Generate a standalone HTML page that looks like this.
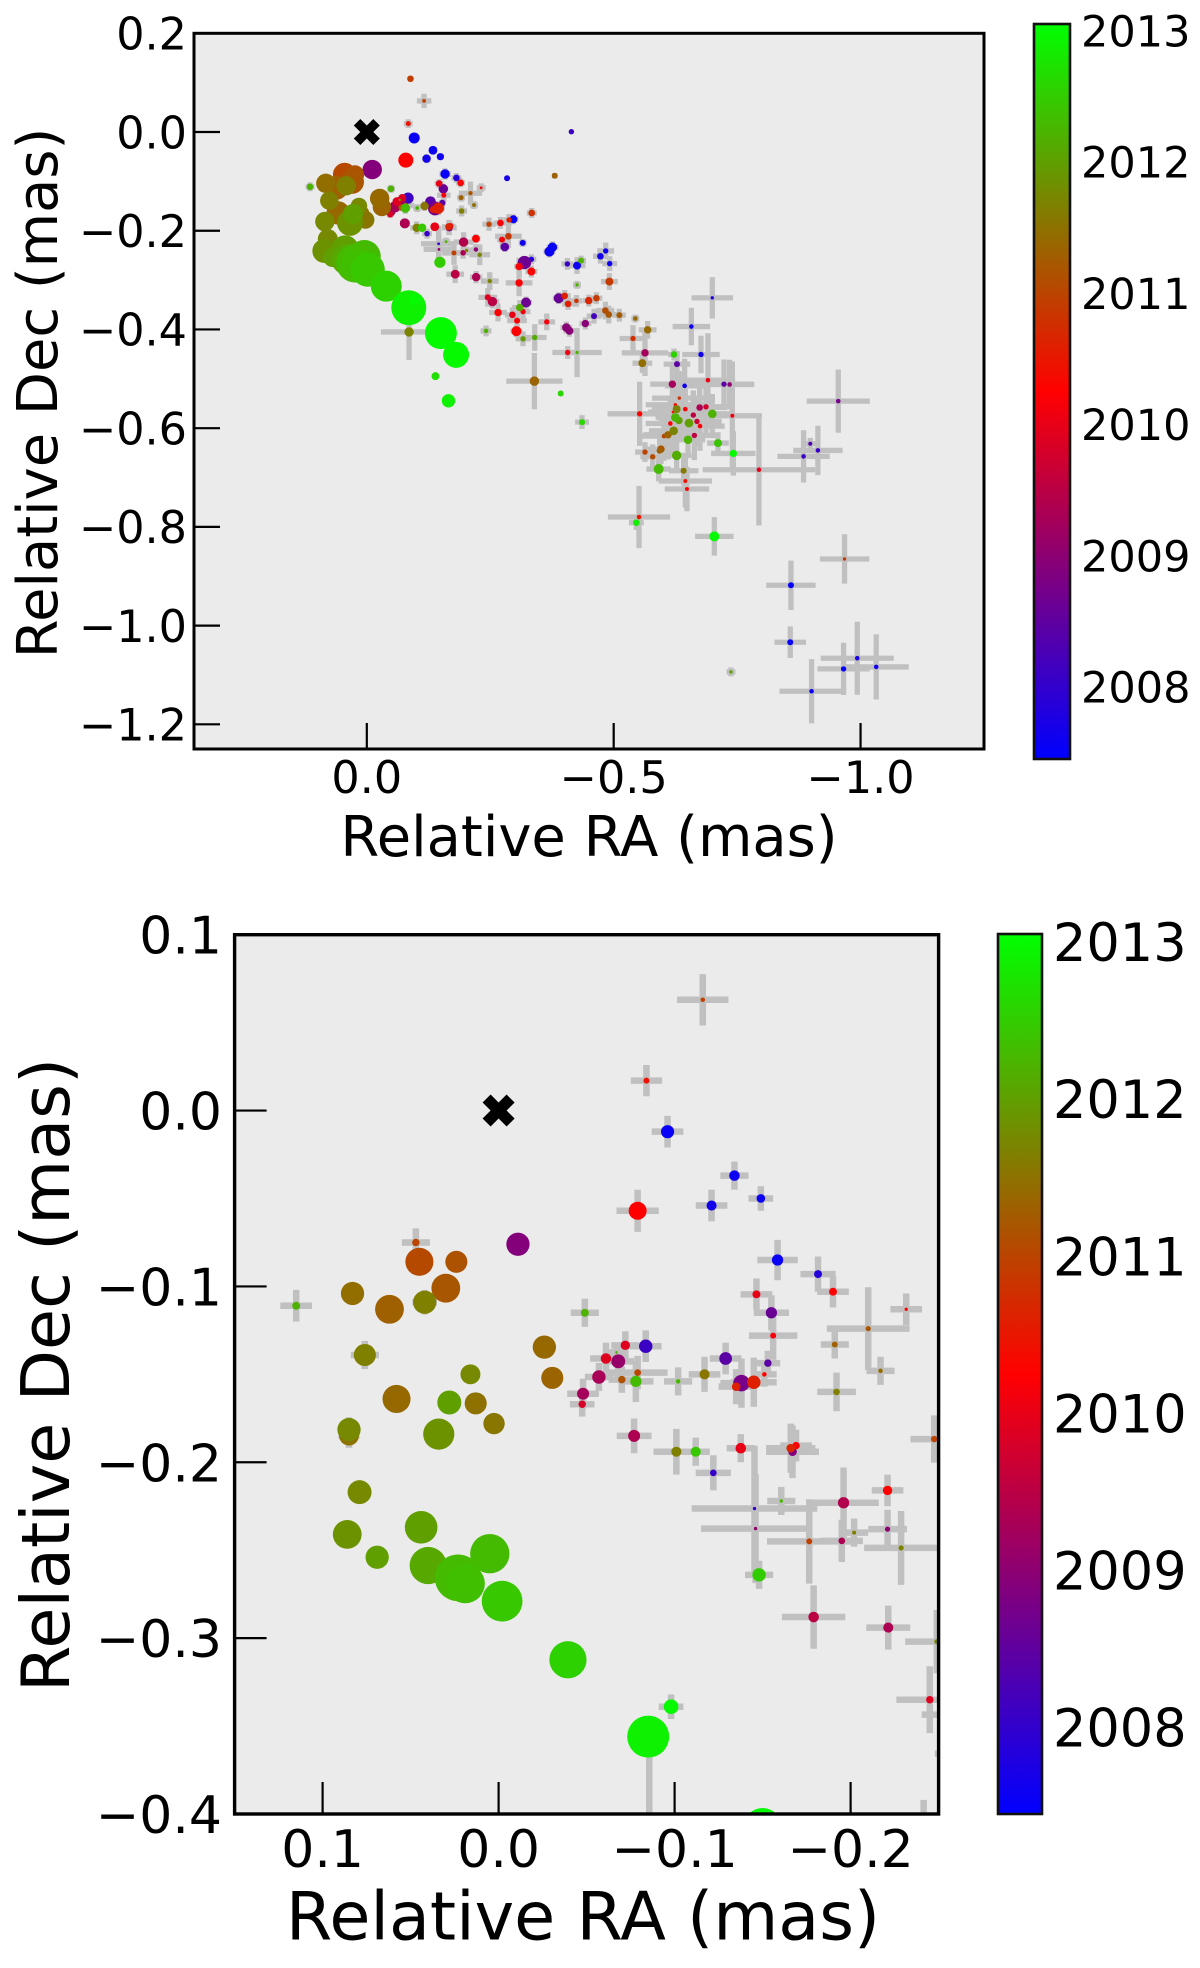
<!DOCTYPE html>
<html lang="en">
<head>
<meta charset="utf-8">
<title>Relative RA and Dec by epoch</title>
<style>
html,body{margin:0;padding:0;background:#fff;width:1200px;height:1968px;overflow:hidden;}
svg{display:block;font-family:"DejaVu Sans","Liberation Sans",sans-serif;}
</style>
</head>
<body>
<svg id="figure" xmlns="http://www.w3.org/2000/svg" width="1200" height="1968" viewBox="0 0 1200 1968">
  <defs>
    <linearGradient id="epochGradient" x1="0" y1="1" x2="0" y2="0">
      <stop offset="0" stop-color="#0000ff"/>
      <stop offset="0.5" stop-color="#ff0000"/>
      <stop offset="1" stop-color="#00ff00"/>
    </linearGradient>
    <clipPath id="clip-top"><rect x="194" y="33.3" width="790" height="715.7"/></clipPath>
    <clipPath id="clip-bottom"><rect x="234.6" y="934.7" width="704" height="879.3"/></clipPath>
  </defs>
  <rect x="0" y="0" width="1200" height="1968" fill="#ffffff"/>
  <g id="panel-top"></g>
  <g id="panel-bottom"></g>
  <text x="589" y="856" font-size="55.9" text-anchor="middle">Relative RA (mas)</text>
  <text transform="translate(57,393) rotate(-90)" font-size="55.9" text-anchor="middle">Relative Dec (mas)</text>
  <text x="583" y="1939.5" font-size="66.8" text-anchor="middle">Relative RA (mas)</text>
  <text transform="translate(69,1375) rotate(-90)" font-size="66.8" text-anchor="middle">Relative Dec (mas)</text>
</svg>
<script>
const raValues = [
-0.116,-0.084,-0.096,-0.134,-0.149,-0.121,-0.079,-0.011,0.047,0.045,
0.024,0.030,0.083,0.062,0.042,0.115,-0.049,-0.1585,-0.1815,-0.190,
-0.1465,-0.155,-0.2316,-0.210,-0.156,-0.191,-0.217,-0.192,-0.072,-0.0836,
-0.061,-0.067,-0.068,-0.057,-0.070,-0.079,-0.078,-0.048,-0.0475,-0.026,
-0.0305,0.076,0.016,0.028,0.058,0.013,0.0026,0.085,0.085,0.034,
-0.102,-0.117,-0.129,-0.153,-0.151,-0.138,-0.145,-0.135,-0.077,-0.101,
-0.112,-0.1376,-0.122,-0.167,-0.166,-0.169,-0.221,-0.196,-0.1606,-0.1454,
-0.146,-0.221,-0.202,-0.1765,-0.195,-0.2287,-0.148,-0.179,-0.2214,-0.249,
-0.245,-0.150,-0.085,-0.0856,-0.098,-0.0394,-0.002,0.005,0.019,0.023,
0.040,0.044,0.069,0.086,0.079,-0.2475,-0.2706,-0.2881,-0.2969,-0.334,
-0.2868,-0.2739,-0.2794,-0.3158,-0.3759,-0.3698,-0.3192,-0.3333,-0.3084,-0.3333,
-0.3084,-0.4062,-0.4258,-0.4339,-0.4731,-0.4838,-0.4919,-0.4913,-0.4258,-0.2544,
-0.2658,-0.2949,-0.3097,-0.3164,-0.3225,-0.3043,-0.303,-0.3164,-0.3401,-0.3644,
-0.4042,-0.4103,-0.4426,-0.4258,-0.4069,-0.3887,-0.4008,-0.4076,-0.4245,-0.4494,
-0.465,-0.4832,-0.4899,-0.4602,-0.5115,-0.5438,-0.5391,-0.3394,-0.3927,-0.4359,
-0.1808,-0.139,-0.1654,-0.2415,-0.0884,-0.4143,-0.3806,-0.284,-0.5688,-0.5634,
-0.6221,-0.558,-0.6282,-0.6768,-0.6573,-0.6997,-0.6909,-0.6188,-0.6437,-0.7234,
-0.7348,-0.6329,-0.6248,-0.6275,-0.645,-0.6201,-0.6741,-0.6869,-0.6613,-0.6997,
-0.7403,-0.5526,-0.6248,-0.6322,-0.6525,-0.6147,-0.6687,-0.6748,-0.6215,-0.61,
-0.6019,-0.6634,-0.6505,-0.7112,-0.7423,-0.7942,-0.5958,-0.5931,-0.5634,-0.579,
-0.6275,-0.5911,-0.6417,-0.6451,-0.6484,-0.5513,-0.5459,-0.7038,-0.9548,-0.8981,
-0.9136,-0.8846,-0.9676,-0.859,-0.8576,-0.7375,-0.9008,-0.9656,-0.9933,-1.0317
];
const decValues = [
0.063,0.017,-0.012,-0.037,-0.050,-0.054,-0.057,-0.076,-0.075,-0.086,
-0.086,-0.101,-0.104,-0.113,-0.109,-0.111,-0.115,-0.085,-0.093,-0.103,
-0.1045,-0.115,-0.113,-0.124,-0.128,-0.133,-0.148,-0.160,-0.1335,-0.134,
-0.141,-0.1375,-0.1426,-0.1515,-0.153,-0.149,-0.154,-0.161,-0.167,-0.1345,
-0.152,-0.139,-0.150,-0.166,-0.164,-0.1665,-0.178,-0.1814,-0.1848,-0.184,
-0.154,-0.150,-0.141,-0.1436,-0.150,-0.155,-0.1545,-0.157,-0.185,-0.194,
-0.194,-0.192,-0.206,-0.194,-0.192,-0.1905,-0.216,-0.223,-0.222,-0.2263,
-0.2377,-0.238,-0.240,-0.245,-0.2447,-0.2487,-0.264,-0.288,-0.294,-0.302,
-0.335,-0.4075,-0.356,-0.405,-0.339,-0.3123,-0.279,-0.252,-0.269,-0.2657,
-0.2587,-0.237,-0.254,-0.241,-0.217,-0.1868,-0.1842,-0.1781,-0.1768,-0.164,
-0.2112,-0.218,-0.2328,-0.2247,-0.2334,-0.2422,-0.2645,-0.2578,-0.2726,-0.2827,
-0.3057,-0.2672,-0.2706,-0.2605,-0.2517,-0.2409,-0.2666,-0.303,-0.3097,-0.3435,
-0.3657,-0.3704,-0.3556,-0.3637,-0.3455,-0.382,-0.4035,-0.419,-0.4163,-0.3846,
-0.3961,-0.4028,-0.388,-0.4467,-0.4467,-0.3367,-0.332,-0.3482,-0.3421,-0.3415,
-0.3367,-0.3617,-0.3698,-0.3731,-0.3711,-0.3779,-0.4183,-0.5047,-0.5297,-0.5877,
-0.4514,-0.4946,-0.5445,-0.403,0.1079,0.0006,-0.0885,-0.0937,-0.4008,-0.4474,
-0.4507,-0.4683,-0.4703,-0.4507,-0.3941,-0.336,-0.5027,-0.5108,-0.5142,-0.5108,
-0.5115,-0.5391,-0.5526,-0.5614,-0.5614,-0.5674,-0.5581,-0.5567,-0.5735,-0.5709,
-0.5749,-0.5709,-0.5783,-0.5844,-0.5897,-0.5905,-0.5864,-0.5958,-0.6053,-0.6134,
-0.616,-0.6147,-0.6235,-0.6302,-0.6512,-0.6842,-0.6424,-0.6457,-0.6484,-0.6579,
-0.6552,-0.6828,-0.6862,-0.7071,-0.7233,-0.78,-0.7915,-0.8192,-0.5452,-0.6316,
-0.6451,-0.6572,-0.865,-0.9183,-1.0337,-1.0938,-1.133,-1.0877,-1.0661,-1.0837
];
const raErrors = [
0.0146,0.0089,0.009,0.008,0.007,0.009,0.012,0.002,0.008,0.002,
0.003,0.002,0.005,0.002,0.007,0.009,0.008,0.0115,0.01,0.009,
0.009,0.01,0.009,0.0235,0.0137,0.008,0.008,0.011,0.008,0.009,
0.009,0.005,0.009,0.008,0.0075,0.017,0.01,0.009,0.007,0.002,
0.002,0.008,0.004,0.002,0.002,0.002,0.002,0.006,0.006,0.002,
0.008,0.009,0.009,0.007,0.007,0.012,0.013,0.01,0.0099,0.013,
0.008,0.008,0.01,0.015,0.014,0.009,0.009,0.02,0.008,0.0357,
0.031,0.011,0.008,0.024,0.012,0.021,0.008,0.018,0.0125,0.018,
0.019,0.002,0.002,0.057,0.007,0.002,0.002,0.002,0.002,0.002,
0.002,0.002,0.002,0.002,0.002,0.0135,0.012,0.012,0.01,0.01,
0.027,0.01,0.01,0.008,0.012,0.012,0.012,0.01,0.01,0.012,
0.027,0.012,0.017,0.01,0.015,0.017,0.015,0.017,0.008,0.014,
0.018,0.015,0.015,0.015,0.012,0.02,0.012,0.015,0.024,0.017,
0.012,0.012,0.012,0.05,0.013,0.012,0.012,0.012,0.012,0.012,
0.012,0.018,0.018,0.015,0.013,0.008,0.027,0.057,0.004,0.014,
0.002,0.002,0.002,0.011,0.002,0.001,0.005,0.002,0.018,0.047,
0.012,0.02,0.027,0.038,0.038,0.042,0.055,0.045,0.04,0.06,
0.05,0.055,0.06,0.05,0.055,0.05,0.055,0.055,0.05,0.04,
0.06,0.065,0.04,0.04,0.04,0.05,0.05,0.05,0.05,0.05,
0.05,0.05,0.035,0.022,0.045,0.114,0.03,0.03,0.02,0.025,
0.03,0.025,0.03,0.054,0.045,0.063,0.015,0.039,0.064,0.012,
0.05,0.053,0.05,0.05,0.032,0.009,0.065,0.053,0.074,0.066
];
const decErrors = [
0.0146,0.0089,0.009,0.008,0.007,0.009,0.012,0.002,0.008,0.002,
0.003,0.002,0.005,0.002,0.007,0.009,0.008,0.0115,0.01,0.009,
0.009,0.01,0.009,0.0235,0.0137,0.008,0.008,0.011,0.008,0.009,
0.009,0.005,0.009,0.008,0.0075,0.0095,0.0118,0.0085,0.007,0.002,
0.002,0.008,0.004,0.002,0.002,0.002,0.002,0.007,0.007,0.002,
0.008,0.01,0.009,0.007,0.007,0.014,0.014,0.01,0.0099,0.013,
0.008,0.008,0.01,0.015,0.014,0.009,0.009,0.02,0.008,0.0357,
0.031,0.011,0.008,0.024,0.012,0.021,0.008,0.018,0.0125,0.018,
0.019,0.002,0.002,0.057,0.007,0.002,0.002,0.002,0.002,0.002,
0.002,0.002,0.002,0.002,0.002,0.0135,0.012,0.012,0.01,0.01,
0.024,0.01,0.01,0.008,0.012,0.012,0.012,0.01,0.018,0.012,
0.027,0.012,0.017,0.01,0.015,0.017,0.015,0.017,0.008,0.014,
0.018,0.015,0.015,0.015,0.012,0.02,0.012,0.015,0.027,0.017,
0.012,0.012,0.012,0.05,0.013,0.012,0.012,0.012,0.012,0.012,
0.012,0.018,0.018,0.015,0.013,0.008,0.027,0.057,0.004,0.014,
0.002,0.002,0.002,0.011,0.002,0.001,0.005,0.002,0.018,0.047,
0.012,0.02,0.027,0.038,0.038,0.042,0.095,0.045,0.055,0.05,
0.05,0.055,0.06,0.05,0.055,0.05,0.055,0.055,0.05,0.04,
0.11,0.065,0.04,0.04,0.04,0.05,0.05,0.05,0.05,0.05,
0.05,0.05,0.035,0.022,0.045,0.113,0.03,0.03,0.02,0.025,
0.03,0.025,0.03,0.054,0.045,0.063,0.015,0.039,0.064,0.012,
0.05,0.053,0.05,0.05,0.032,0.009,0.065,0.053,0.074,0.066
];
const epochs = [
2010.95,2010.45,2007.55,2007.6,2007.6,2007.65,2010.25,2008.9,2011,2011.05,
2011.15,2011.2,2011.45,2011.3,2011.65,2012.2,2012.2,2007.55,2007.85,2010.25,
2010,2008.6,2010.25,2011.2,2010.15,2011.3,2011.45,2011.65,2009.9,2008.1,
2009.9,2012.2,2009.1,2009.3,2011.15,2011,2012.3,2009.25,2009.8,2011.4,
2011.35,2011.65,2011.75,2012,2011.4,2011.5,2011.55,2011.75,2011.5,2011.85,
2012.25,2011.55,2008.45,2008.45,2010.25,2008.75,2010.6,2010.6,2009.35,2011.65,
2012.45,2010,2008.05,2008.85,2010.65,2010.25,2010.25,2009.4,2012.25,2008,
2009.05,2009,2011.65,2010.95,2009.35,2011.7,2012.5,2009.5,2009.35,2011.7,
2009.9,2013,2012.9,2011.7,2013,2012.55,2012.45,2012.3,2012.35,2012.3,
2012.1,2012,2012,2011.85,2011.75,2011,2010.2,2010.6,2007.55,2010.8,
2010.85,2010.2,2008.45,2007.65,2007.55,2007.55,2008.65,2007.8,2010.2,2010.3,
2010.2,2008.1,2007.6,2012.2,2007.7,2007.65,2007.6,2010.9,2012.2,2009.5,
2010.2,2010,2012.15,2010.1,2008.65,2010.2,2010.25,2011.95,2012.15,2010.15,
2008.95,2008.95,2008.95,2012.2,2010.05,2008.6,2010.6,2010.6,2010.8,2010.65,
2010.9,2011.1,2011.2,2008.2,2011.25,2011.4,2010.75,2011.35,2012.6,2012.6,
2013,2012.7,2012.9,2012.2,2010.9,2008.1,2011.3,2007.7,2011.4,2009.25,
2012.55,2011.45,2008.45,2007.65,2007.6,2007.8,2010.05,2009.25,2007.6,2008.45,
2009,2010.8,2010.25,2011.7,2010.2,2010.25,2009.35,2009.75,2009.55,2012.2,
2010.1,2010.25,2012.25,2012,2012,2010.2,2009.7,2010.25,2011.7,2011.35,
2011,2009.55,2012.2,2012.4,2013,2009.95,2011.2,2011.3,2011,2011.1,
2012.15,2012.3,2011.6,2010.45,2010.25,2010.5,2012.85,2013,2008.75,2008.3,
2008.1,2008.1,2010.9,2007.5,2007.5,2012,2007.6,2007.5,2007.75,2007.65
];
const fluxes = [
1.9,2.5,5.5,4.4,3.6,4.2,7.5,9.7,3.1,11.7,
9.2,12,9.7,12,9.7,3.3,3.3,4.7,3.3,3.3,
3.3,4.7,1.4,2.2,2.5,2.5,1.9,2.8,3.9,5.6,
4.4,1.1,5.8,5.6,3.1,2.8,4.7,5,3.1,9.7,
9.2,9.2,8.3,10,11.7,9.2,8.9,9.7,8.3,13,
1.9,4.2,5.3,3.1,1.9,6.9,5.6,3.6,5,4.2,
4.2,4.4,2.8,3.6,3.6,3.1,3.9,4.7,1.4,1.4,
1.4,2.2,1.7,2.5,2.8,2.2,5.6,4.4,4.2,2.2,
3.1,16,17.5,4.7,6.1,15.5,17,16.4,16.4,19.4,
15.5,13.6,9.7,12,10,2.7,3.3,2.7,4,3.3,
3.3,3,4.3,3,4.7,5,6.7,2.7,3.7,4,
3.7,2.7,4,3,3.3,2.7,2.7,4,1.7,4.7,
3.7,3.3,3.7,2.7,5,3,5,2.7,2.7,2.7,
4.3,4,3.7,1.7,2.7,5,3.3,3.3,2.3,3.7,
3.3,3.3,3.3,3,3,2.3,2.7,4.7,3,3,
13,4,6.7,2.3,3.3,2.7,3,3,3.7,3.7,
3.3,4,3,2.7,2.3,1.7,2.3,3.7,2.3,2.7,
2.3,1.7,1.7,4,2.3,1.3,3.3,2.7,2.7,4.3,
2,2.7,4.3,3.7,4.3,2.3,2.7,2.3,4.3,3.7,
2.3,2.7,4.3,4,3.7,2.3,3.7,3,2.7,2.7,
4.7,5,3,2,2,2.3,3.3,5,2.3,2,
2.3,2.3,1.7,3,3,1.7,2.3,2.7,2.3,2.3
];
const topRaTicks = [0, -0.5, -1];
const topDecTicks = [0.2, 0, -0.2, -0.4, -0.6, -0.8, -1, -1.2];
const bottomRaTicks = [0.1, 0, -0.1, -0.2];
const bottomDecTicks = [0.1, 0, -0.1, -0.2, -0.3, -0.4];
const colorbarYears = [2013, 2012, 2011, 2010, 2009, 2008];

const SVG_NS = 'http://www.w3.org/2000/svg';
const EPOCH_MIN = 2007.45;
const EPOCH_MAX = 2013.05;

function linear(d0, d1, r0, r1) {
  return function (v) { return r0 + (v - d0) * (r1 - r0) / (d1 - d0); };
}
function make(parent, tag, attrs) {
  const el = document.createElementNS(SVG_NS, tag);
  Object.keys(attrs).forEach(function (k) { el.setAttribute(k, attrs[k]); });
  parent.appendChild(el);
  return el;
}
function epochColor(t) {
  const f = Math.max(0, Math.min(1, (t - EPOCH_MIN) / (EPOCH_MAX - EPOCH_MIN)));
  let r, g, b;
  if (f < 0.5) { r = 255 * f * 2; g = 0; b = 255 * (1 - f * 2); }
  else { r = 255 * (1 - (f - 0.5) * 2); g = 255 * (f - 0.5) * 2; b = 0; }
  return 'rgb(' + Math.round(r) + ',' + Math.round(g) + ',' + Math.round(b) + ')';
}
function fmt(v) {
  return (v < 0 ? '\u2212' : '') + Math.abs(v).toFixed(1);
}

function drawPanel(p) {
  const root = document.getElementById(p.rootId);
  const xs = linear(p.xDomain[0], p.xDomain[1], p.xRange[0], p.xRange[1]);
  const ys = linear(p.yDomain[0], p.yDomain[1], p.yRange[0], p.yRange[1]);
  const w = p.xRange[1] - p.xRange[0];
  const h = p.yRange[1] - p.yRange[0];
  const clampX = function (v) { return Math.max(p.xRange[0], Math.min(p.xRange[1], v)); };
  const clampY = function (v) { return Math.max(p.yRange[0], Math.min(p.yRange[1], v)); };
  const inX = function (v) { return v >= p.xRange[0] && v <= p.xRange[1]; };
  const inY = function (v) { return v >= p.yRange[0] && v <= p.yRange[1]; };

  const bg = make(root, 'rect', { x: p.xRange[0], y: p.yRange[0], width: w, height: h, fill: '#ebebeb' });
  
  

  const plot = make(root, 'g', { 'clip-path': 'url(#' + p.clipId + ')' });
  
  

  const order = epochs.map(function (_, i) { return i; }).sort(function (a, b) { return epochs[a] - epochs[b]; });

  order.forEach(function (i) {
    const cx = xs(raValues[i]);
    const cy = ys(decValues[i]);
    const left = xs(raValues[i] + raErrors[i]);
    const right = xs(raValues[i] - raErrors[i]);
    const top = ys(decValues[i] + decErrors[i]);
    const bottom = ys(decValues[i] - decErrors[i]);
    if (inY(cy) && clampX(left) < clampX(right)) {
      const hBar = make(plot, 'line', { x1: clampX(left), x2: clampX(right), y1: cy, y2: cy, stroke: '#c0c0c0', 'stroke-width': p.barWidth });
      
      
    }
    if (inX(cx) && clampY(top) < clampY(bottom)) {
      const vBar = make(plot, 'line', { x1: cx, x2: cx, y1: clampY(top), y2: clampY(bottom), stroke: '#c0c0c0', 'stroke-width': p.barWidth });
      
      
    }
  });

  order.forEach(function (i) {
    const cx = xs(raValues[i]);
    const cy = ys(decValues[i]);
    const r = fluxes[i] * p.markerScale;
    if (cx + r < p.xRange[0] || cx - r > p.xRange[1] || cy + r < p.yRange[0] || cy - r > p.yRange[1]) { return; }
    const dot = make(plot, 'circle', { cx: cx, cy: cy, r: r, fill: epochColor(epochs[i]) });
    
    
  });

  const s = p.crossSize / 2;
  const crossShape = [[-1,-2],[0,-1],[1,-2],[2,-1],[1,0],[2,1],[1,2],[0,1],[-1,2],[-2,1],[-1,0],[-2,-1]];
  const pts = crossShape.map(function (v) { return (xs(0) + v[0] * s) + ',' + (ys(0) + v[1] * s); }).join(' ');
  const cross = make(plot, 'polygon', { points: pts, fill: '#000000' });
  
  

  p.xTicks.forEach(function (v) {
    const t = make(root, 'line', { x1: xs(v), x2: xs(v), y1: p.yRange[1], y2: p.yRange[1] - p.tickLength, stroke: '#000', 'stroke-width': 2.2 });
    
    
    const l = make(root, 'text', { x: xs(v), y: p.xLabelBaseline, 'font-size': p.tickFont, 'text-anchor': 'middle', fill: '#000' });
    
    
    l.textContent = fmt(v);
  });
  p.yTicks.forEach(function (v) {
    const t = make(root, 'line', { x1: p.xRange[0], x2: p.xRange[0] + p.tickLength, y1: ys(v), y2: ys(v), stroke: '#000', 'stroke-width': 2.2 });
    
    
    const l = make(root, 'text', { x: p.yLabelRight, y: ys(v) + p.tickFont * 0.365, 'font-size': p.tickFont, 'text-anchor': 'end', fill: '#000' });
    
    
    l.textContent = fmt(v);
  });

  const frame = make(root, 'rect', { x: p.xRange[0], y: p.yRange[0], width: w, height: h, fill: 'none', stroke: '#000', 'stroke-width': p.frameWidth });
  
  

  const bar = make(root, 'rect', { x: p.cbar.x, y: p.cbar.top, width: p.cbar.width, height: p.cbar.bottom - p.cbar.top, fill: 'url(#epochGradient)', stroke: '#111', 'stroke-width': 2.6 });
  
  
  const cs = linear(EPOCH_MIN, EPOCH_MAX, p.cbar.bottom, p.cbar.top);
  colorbarYears.forEach(function (year) {
    const l = make(root, 'text', { x: p.cbar.labelX, y: cs(year) + p.cbar.font * 0.365, 'font-size': p.cbar.font, fill: '#000' });
    
    
    l.textContent = String(year);
  });
}

drawPanel({
  rootId: 'panel-top', prefix: 'top', clipId: 'clip-top',
  xDomain: [0.35, -1.25], xRange: [194, 984],
  yDomain: [0.2, -1.25], yRange: [33.3, 749],
  xTicks: topRaTicks, yTicks: topDecTicks,
  barWidth: 5.3, markerScale: 1, crossSize: 13, tickLength: 26, tickFont: 44.5,
  xLabelBaseline: 793, yLabelRight: 187, frameWidth: 3,
  cbar: { x: 1034, width: 36, top: 24, bottom: 759, labelX: 1081, font: 43 }
});
drawPanel({
  rootId: 'panel-bottom', prefix: 'bottom', clipId: 'clip-bottom',
  xDomain: [0.15, -0.25], xRange: [234.6, 938.6],
  yDomain: [0.1, -0.4], yRange: [934.7, 1814],
  xTicks: bottomRaTicks, yTicks: bottomDecTicks,
  barWidth: 6.5, markerScale: 1.2, crossSize: 16, tickLength: 32, tickFont: 52,
  xLabelBaseline: 1867, yLabelRight: 222, frameWidth: 3.4,
  cbar: { x: 998, width: 44, top: 934, bottom: 1814, labelX: 1053, font: 52.5 }
});
</script>
</body>
</html>
